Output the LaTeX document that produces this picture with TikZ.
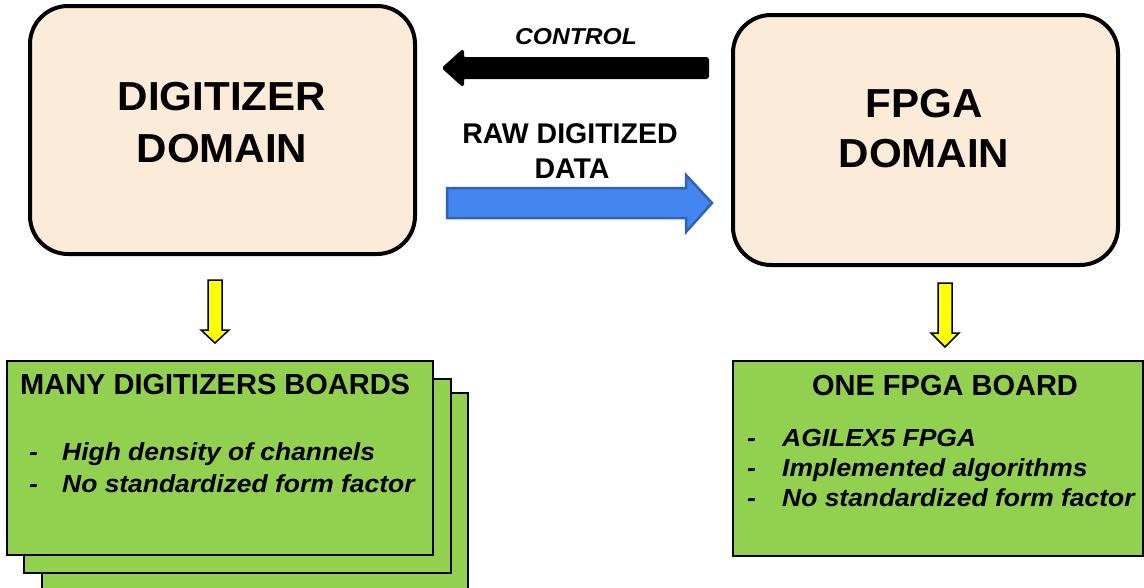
\documentclass[tikz,border=0pt]{standalone}
\usepackage{fontspec}
\setmainfont{Liberation Sans}
\newfontfamily\titlefont[FakeStretch=1.04]{Liberation Sans}
\newfontfamily\widefont[FakeStretch=1.07]{Liberation Sans}
\definecolor{peach}{HTML}{FCEBD8}
\definecolor{board}{HTML}{92D050}
\definecolor{datablue}{HTML}{4486F0}
\definecolor{datablueedge}{HTML}{3062B8}
\definecolor{hintyellow}{HTML}{FFFF00}

\begin{document}
\begin{tikzpicture}[x=1pt,y=-1pt,
  domainbox/.style={draw, line width=4pt, fill=peach, rounded corners=38pt, inner sep=0pt},
  boardbox/.style={draw, line width=1.8pt, fill=board, inner sep=0pt},
  titletext/.style={anchor=base, inner sep=0pt, font=\titlefont\bfseries\fontsize{40.5}{50}\selectfont},
  headtext/.style={inner sep=0pt, font=\bfseries\fontsize{29}{35}\selectfont},
  itemtext/.style={anchor=base west, inner sep=0pt, font=\widefont\bfseries\itshape\fontsize{24.7}{30}\selectfont},
  labeltext/.style={anchor=base, inner sep=0pt, font=\bfseries\fontsize{28.5}{35}\selectfont},
  ctrltext/.style={anchor=base, inner sep=0pt, font=\widefont\bfseries\itshape\fontsize{23}{28}\selectfont},
  downarrow/.style={draw, line width=1.5pt, fill=hintyellow, line join=miter},
]
\useasboundingbox (0,0) rectangle (1144,587);
\clip (0,0) rectangle (1144,587);

% domain boxes
\node[domainbox, minimum width=385pt, minimum height=248pt] (dig) at (222.5,130) {};
\node[domainbox, minimum width=385pt, minimum height=250pt] (fpga) at (925.5,140) {};

\node[titletext] (digA) at (222,110) {DIGITIZER};
\node[titletext] (digB) at (222,162) {DOMAIN};
\node[titletext] (fpgaA) at (924,117) {FPGA};
\node[titletext] (fpgaB) at (924,167) {DOMAIN};

% control arrow (FPGA -> digitizer)
\draw[fill=black, line width=2pt, line join=round, rounded corners=1.5pt]
  (708,58) -- (463,58) -- (463,50) -- (443,68) -- (463,86) -- (463,78) -- (708,78) -- cycle;
\node[ctrltext] (ctrl) at (576,44) {CONTROL};

% raw data arrow (digitizer -> FPGA)
\draw[fill=datablue, draw=datablueedge, line width=2.5pt, line join=miter]
  (447,188) -- (686,188) -- (686,175) -- (712,203) -- (686,232) -- (686,218) -- (447,218) -- cycle;
\node[labeltext] (rawA) at (570,143) {RAW DIGITIZED};
\node[labeltext] (rawB) at (572,178) {DATA};

% down arrows
\draw[downarrow] (208,280) -- (222,280) -- (222,330) -- (229,330) -- (215,343) -- (201,330) -- (208,330) -- cycle;
\draw[downarrow] (938,283) -- (952,283) -- (952,333) -- (959,333) -- (945,347) -- (931,333) -- (938,333) -- cycle;

% stacked digitizer boards
\node[boardbox, minimum width=426pt, minimum height=227pt] (boardC) at (255,506.5) {};
\node[boardbox, minimum width=427pt, minimum height=194pt] (boardB) at (237.5,476) {};
\node[boardbox, minimum width=426pt, minimum height=194pt] (boardA) at (220,458) {};

\node[headtext, anchor=base west] (manyhead) at (20,394) {MANY DIGITIZERS BOARDS};
\node[itemtext] (dashA1) at (29,460) {-};
\node[itemtext] (itemA1) at (62,460) {High density of channels};
\node[itemtext] (dashA2) at (29,492) {-};
\node[itemtext] (itemA2) at (62,492) {No standardized form factor};

% FPGA board
\node[boardbox, minimum width=410pt, minimum height=195pt] (fboard) at (938,458.5) {};
\node[headtext, anchor=base] (onehead) at (945,395) {ONE FPGA BOARD};
\node[itemtext] (dashB1) at (747,446) {-};
\node[itemtext] (itemB1) at (782,446) {AGILEX5 FPGA};
\node[itemtext] (dashB2) at (747,476) {-};
\node[itemtext] (itemB2) at (782,476) {Implemented algorithms};
\node[itemtext] (dashB3) at (747,506) {-};
\node[itemtext] (itemB3) at (782,506) {No standardized form factor};
\end{tikzpicture}
\end{document}
